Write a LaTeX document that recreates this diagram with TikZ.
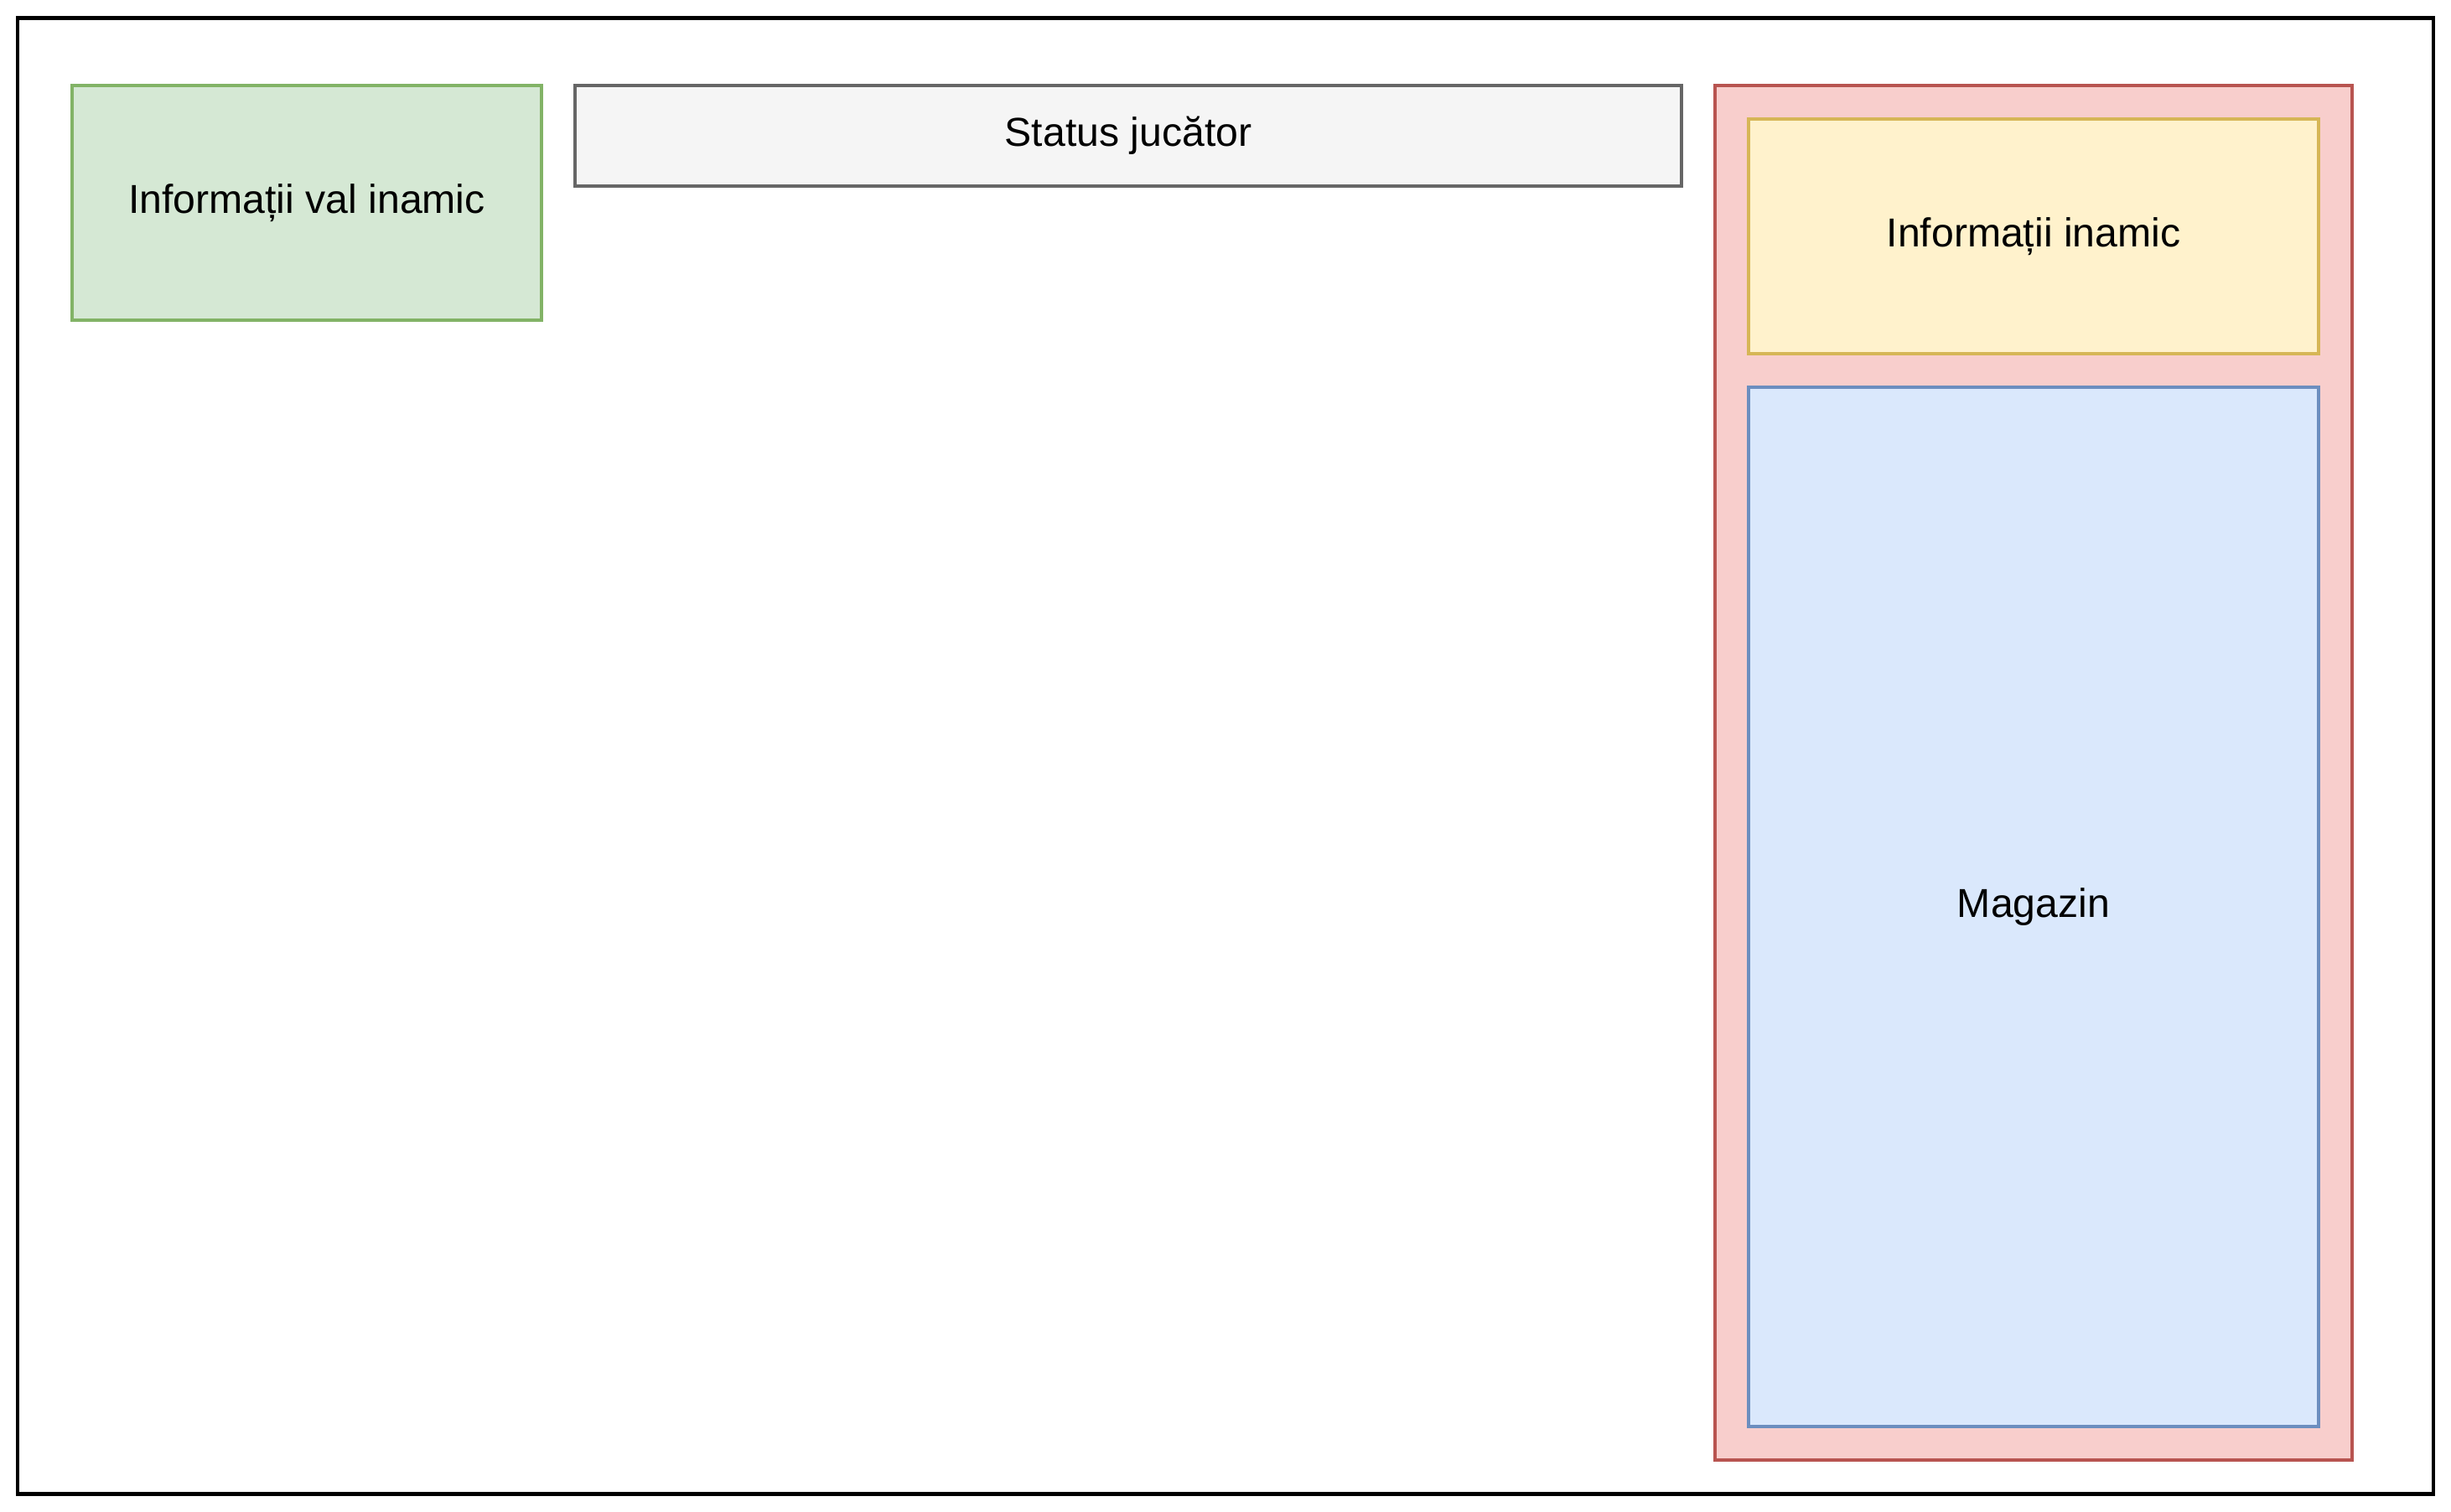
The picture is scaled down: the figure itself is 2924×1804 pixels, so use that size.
\documentclass[tikz,border=0pt]{standalone}
\usepackage{fontspec}
\setmainfont{Liberation Sans}
\definecolor{greenfill}{HTML}{D5E8D4}
\definecolor{greenline}{HTML}{82B366}
\definecolor{grayfill}{HTML}{F5F5F5}
\definecolor{grayline}{HTML}{666666}
\definecolor{redfill}{HTML}{F8CECC}
\definecolor{redline}{HTML}{B85450}
\definecolor{yellowfill}{HTML}{FFF2CC}
\definecolor{yellowline}{HTML}{D6B656}
\definecolor{bluefill}{HTML}{DAE8FC}
\definecolor{blueline}{HTML}{6C8EBF}
\tikzset{
  box/.style={draw, rectangle, line width=1.14pt, inner sep=0pt,
    font=\fontsize{13.7}{16}\selectfont},
}
\begin{document}
\begin{tikzpicture}[x=0.01cm, y=-0.01cm]
\useasboundingbox (0,0) rectangle (2924,1804);

\node[draw, rectangle, line width=1.2pt, minimum width=28.8cm, minimum height=17.6cm] (screen) at (1462,902) {};

\node[box, fill=greenfill, draw=greenline, minimum width=5.6cm, minimum height=2.8cm] (wave) at (366,242) {Informații val inamic};
\node[box, fill=grayfill, draw=grayline, minimum width=13.2cm, minimum height=1.2cm] (status) at (1346,162) {Status jucător};

\node[box, fill=redfill, draw=redline, minimum width=7.6cm, minimum height=16.4cm] (panel) at (2426,922) {};
\node[box, fill=yellowfill, draw=yellowline, minimum width=6.8cm, minimum height=2.8cm] (enemy) at (2426,282) {Informații inamic};
\node[box, fill=bluefill, draw=blueline, minimum width=6.8cm, minimum height=12.4cm] (shop) at (2426,1082) {Magazin};

\end{tikzpicture}
\end{document}
